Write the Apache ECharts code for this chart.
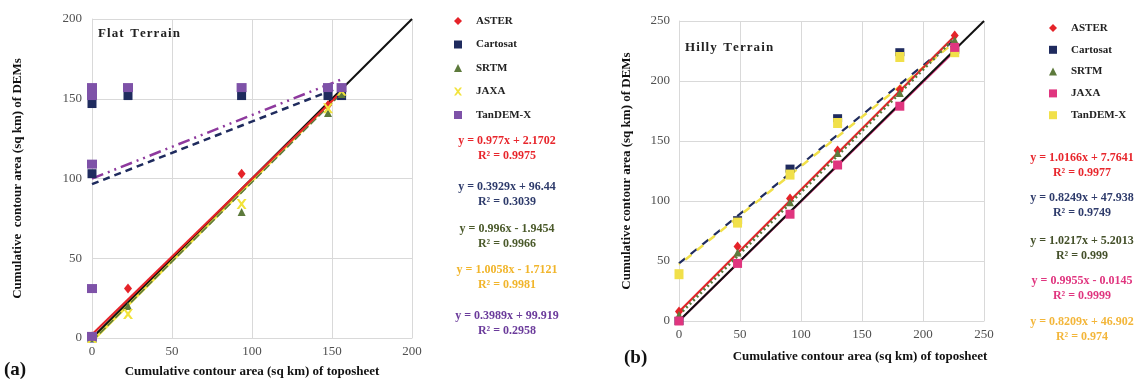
<!DOCTYPE html>
<html>
<head>
<meta charset="utf-8">
<script src="https://cdn.jsdelivr.net/npm/echarts@6/dist/echarts.min.js"></script>
<style>
  html, body { margin: 0; padding: 0; background: #fff; }
  #chart { width: 1137px; height: 381px; }
</style>
</head>
<body>
<div id="chart"></div>
<script>
// DEM names
const demNames = ['ASTER', 'Cartosat', 'SRTM', 'JAXA', 'TanDEM-X']

// (a) flat terrain: points per DEM
const flatAsterX = [0, 22.5, 93.5, 147.5, 156]
const flatAsterY = [1, 31, 103, 146, 154]
const flatCartoX = [0, 0, 0, 22.5, 93.5, 147.5, 156]
const flatCartoY = [0, 103, 147, 152, 152, 152, 152]
const flatSrtmX = [0, 22.5, 93.5, 147.5, 156]
const flatSrtmY = [0, 20, 79, 141, 153]
const flatJaxaX = [0, 22.5, 93.5, 147.5, 156]
const flatJaxaY = [0, 15, 84, 144, 155]
const flatTandemX = [0, 0, 0, 0, 0, 22.5, 93.5, 147.5, 156]
const flatTandemY = [1, 31, 109, 152, 157, 157, 157, 157, 157]

// (a) trend lines
const flatSlope = [0.977, 0.3929, 0.996, 1.0058, 0.3989]
const flatIntercept = [2.1702, 96.44, -1.9454, -1.7121, 99.919]
const flatR2 = [0.9975, 0.3039, 0.9966, 0.9981, 0.2958]

// (b) hilly terrain: points per DEM (shared x)
const hillyX = [0, 48, 91, 130, 181, 226]
const hillyAsterY = [8, 62, 102, 142, 193, 238]
const hillyCartoY = [0, 84, 127, 169, 224, 226]
const hillySrtmY = [5, 57, 99, 140, 190, 234]
const hillyJaxaY = [0, 48, 89, 130, 179, 228]
const hillyTandemY = [39, 82, 122, 165, 220, 224]

// (b) trend lines
const hillySlope = [1.0166, 0.8249, 1.0217, 0.9955, 0.8209]
const hillyIntercept = [7.7641, 47.938, 5.2013, -0.0145, 46.902]
const hillyR2 = [0.9977, 0.9749, 0.999, 0.9999, 0.974]

const flatMax = 200
const hillyMax = 250

const FONT = 'Liberation Serif'
const GRID_COLOR = '#d9d9d9'

const pts = (xs, ys) => xs.map((x, i) => [x, ys[i]])
const trend = (xs, slope, icpt) => {
  const x1 = Math.max(...xs)
  return [[0, icpt], [x1, slope * x1 + icpt]]
}
const eqText = (slope, icpt, r2) =>
  'y = ' + slope + 'x ' + (icpt < 0 ? '- ' : '+ ') + Math.abs(icpt) + '\nR² = ' + r2
// letter-spaced title
const spaced = (s) => s.split('').join('\u200a')

const xMark = 'path://M0,0L2.5,0L5,3.2L7.5,0L10,0L6.4,5L10,10L7.5,10L5,6.8L2.5,10L0,10L3.6,5Z'

const flatColors = ['#e52329', '#1f2b5e', '#5d7a3c', '#f2e33b', '#7e52a8']
const flatLineColors = ['#e52329', '#1f2b5e', '#5d7a3c', '#f2e33b', '#8e3a9e']
const flatEqColors = ['#e8262c', '#2e3b6b', '#4b5a2b', '#f1b52b', '#6b3b9b']
const hillyColors = ['#e52329', '#1f2b5e', '#5d7a3c', '#e0357f', '#f1e04a']
const hillyEqColors = ['#e8262c', '#2e3b6b', '#44502a', '#e0357f', '#f3b63a']

const flatPts = [
  pts(flatAsterX, flatAsterY), pts(flatCartoX, flatCartoY), pts(flatSrtmX, flatSrtmY),
  pts(flatJaxaX, flatJaxaY), pts(flatTandemX, flatTandemY)
]
const flatXs = [flatAsterX, flatCartoX, flatSrtmX, flatJaxaX, flatTandemX]
const hillyPts = [hillyAsterY, hillyCartoY, hillySrtmY, hillyJaxaY, hillyTandemY].map((ys) => pts(hillyX, ys))

const flatSymbols = [['diamond', [8, 10]], ['rect', [9, 9]], ['triangle', [8, 8]], [xMark, [10, 10]], ['rect', [10, 9]]]
const hillySymbols = [['diamond', [8, 10]], ['rect', [9, 8]], ['triangle', [8, 8]], ['rect', [9, 9]], ['rect', [9, 10]]]

// trend line styles
const flatLineStyles = [
  { width: 2.2, type: 'solid', z: 6 },
  { width: 2.5, type: [7, 5], z: 4 },
  { width: 1.6, type: [8, 3], z: 3 },
  { width: 3.5, type: 'solid', z: 2 },
  { width: 2.5, type: [12, 5, 2, 5, 2, 5], z: 4 }
]
const hillyLineStyles = [
  { width: 2.2, type: 'solid', z: 5 },
  { width: 2.2, type: [8, 7], z: 4 },
  { width: 3, type: [2, 3], z: 5 },
  { width: 2, type: 'solid', z: 2 },
  { width: 2.5, type: [8, 7], dashOffset: 7, z: 4 }
]

const axisCommon = {
  type: 'value',
  interval: 50,
  min: 0,
  axisLine: { show: true, lineStyle: { color: GRID_COLOR } },
  axisTick: { show: false },
  splitLine: { show: true, lineStyle: { color: GRID_COLOR, width: 1 } },
  axisLabel: { fontFamily: FONT, fontSize: 13, color: '#505050' }
}

const series = []

demNames.forEach((name, i) => {
  const style = flatLineStyles[i]
  series.push({
    name: 'flat-trend-' + i,
    type: 'line',
    xAxisIndex: 0,
    yAxisIndex: 0,
    data: trend(flatXs[i], flatSlope[i], flatIntercept[i]),
    symbol: 'none',
    silent: true,
    z: style.z,
    lineStyle: { color: flatLineColors[i], width: style.width, type: style.type }
  })
  series.push({
    name,
    type: 'scatter',
    xAxisIndex: 0,
    yAxisIndex: 0,
    data: flatPts[i],
    symbol: flatSymbols[i][0],
    symbolSize: flatSymbols[i][1],
    z: 8 + i,
    itemStyle: { color: flatColors[i], opacity: 1 }
  })
  const hs = hillyLineStyles[i]
  series.push({
    name: 'hilly-trend-' + i,
    type: 'line',
    xAxisIndex: 1,
    yAxisIndex: 1,
    data: trend(hillyX, hillySlope[i], hillyIntercept[i]),
    symbol: 'none',
    silent: true,
    z: hs.z,
    lineStyle: { color: hillyColors[i], width: hs.width, type: hs.type, dashOffset: hs.dashOffset || 0 }
  })
  series.push({
    name: name + ' (b)',
    type: 'scatter',
    xAxisIndex: 1,
    yAxisIndex: 1,
    data: hillyPts[i],
    symbol: hillySymbols[i][0],
    symbolSize: hillySymbols[i][1],
    z: i === 3 ? 14 : 8 + i,
    itemStyle: { color: hillyColors[i], opacity: 1 }
  })
})

// 1:1 reference lines
series.push({
  name: 'flat-1to1', type: 'line', xAxisIndex: 0, yAxisIndex: 0, symbol: 'none', silent: true, z: 5,
  data: [[0, 0], [flatMax, flatMax]],
  lineStyle: { color: '#111', width: 2 }
})
series.push({
  name: 'hilly-1to1', type: 'line', xAxisIndex: 1, yAxisIndex: 1, symbol: 'none', silent: true, z: 3,
  data: [[0, 0], [hillyMax, hillyMax]],
  lineStyle: { color: '#111', width: 2 }
})

const flatEqY = [141, 187, 229, 270, 316]
const hillyEqY = [158, 198, 241, 281, 322]

const graphic = []
flatSlope.forEach((s, i) => {
  graphic.push({
    type: 'text', x: 507, y: flatEqY[i] - 8,
    style: {
      text: eqText(s, flatIntercept[i], flatR2[i]), fill: flatEqColors[i], font: 'bold 12px ' + FONT,
      textAlign: 'center', lineHeight: 15
    }
  })
})
hillySlope.forEach((s, i) => {
  graphic.push({
    type: 'text', x: 1082, y: hillyEqY[i] - 8,
    style: {
      text: eqText(s, hillyIntercept[i], hillyR2[i]), fill: hillyEqColors[i], font: 'bold 12px ' + FONT,
      textAlign: 'center', lineHeight: 15
    }
  })
})
graphic.push(
  { type: 'text', x: 98, y: 27, style: { text: spaced('Flat') + '  ' + spaced('Terrain'), fill: '#222', font: 'bold 13px ' + FONT } },
  { type: 'text', x: 685, y: 41, style: { text: spaced('Hilly') + '  ' + spaced('Terrain'), fill: '#222', font: 'bold 13px ' + FONT } },
  { type: 'text', x: 252, y: 365, style: { text: 'Cumulative contour area (sq km) of toposheet', fill: '#111', font: 'bold 13px ' + FONT, textAlign: 'center' } },
  { type: 'text', x: 860, y: 350, style: { text: 'Cumulative contour area (sq km) of toposheet', fill: '#111', font: 'bold 13px ' + FONT, textAlign: 'center' } },
  { type: 'text', x: 4, y: 361, style: { text: '(a)', fill: '#111', font: 'bold 19px ' + FONT } },
  { type: 'text', x: 624, y: 349, style: { text: '(b)', fill: '#111', font: 'bold 19px ' + FONT } }
)

const legendCommon = {
  orient: 'vertical',
  itemWidth: 8,
  itemHeight: 8,
  selectedMode: false,
  textStyle: { fontFamily: FONT, fontSize: 11, fontWeight: 'bold', color: '#222', lineHeight: 14, padding: [0, 0, 0, 9] },
  formatter: (name) => name.replace(' (b)', '')
}

const chart = echarts.init(document.getElementById('chart'), null, { renderer: 'canvas' })
chart.setOption({
  animation: false,
  backgroundColor: '#fff',
  grid: [
    { left: 92, top: 19, width: 320, height: 319 },
    { left: 679, top: 21, width: 305, height: 300 }
  ],
  xAxis: [
    { ...axisCommon, gridIndex: 0, max: flatMax, axisLabel: { ...axisCommon.axisLabel, margin: 7 } },
    { ...axisCommon, gridIndex: 1, max: hillyMax, axisLabel: { ...axisCommon.axisLabel, margin: 7 } }
  ],
  yAxis: [
    {
      ...axisCommon, gridIndex: 0, max: flatMax,
      axisLabel: { ...axisCommon.axisLabel, margin: 10 },
      name: 'Cumulative  contour area (sq km) of DEMs', nameLocation: 'middle', nameGap: 68,
      nameTextStyle: { fontFamily: FONT, fontSize: 13, fontWeight: 'bold', color: '#111' }
    },
    {
      ...axisCommon, gridIndex: 1, max: hillyMax,
      axisLabel: { ...axisCommon.axisLabel, margin: 9 },
      name: 'Cumulative contour area (sq km) of DEMs', nameLocation: 'middle', nameGap: 46,
      nameTextStyle: { fontFamily: FONT, fontSize: 13, fontWeight: 'bold', color: '#111' }
    }
  ],
  legend: [
    { ...legendCommon, left: 449, top: 9, itemGap: 9.5, data: demNames },
    { ...legendCommon, left: 1044, top: 16, itemGap: 7.8, data: demNames.map((n) => n + ' (b)') }
  ],
  graphic,
  series
})
</script>
</body>
</html>
